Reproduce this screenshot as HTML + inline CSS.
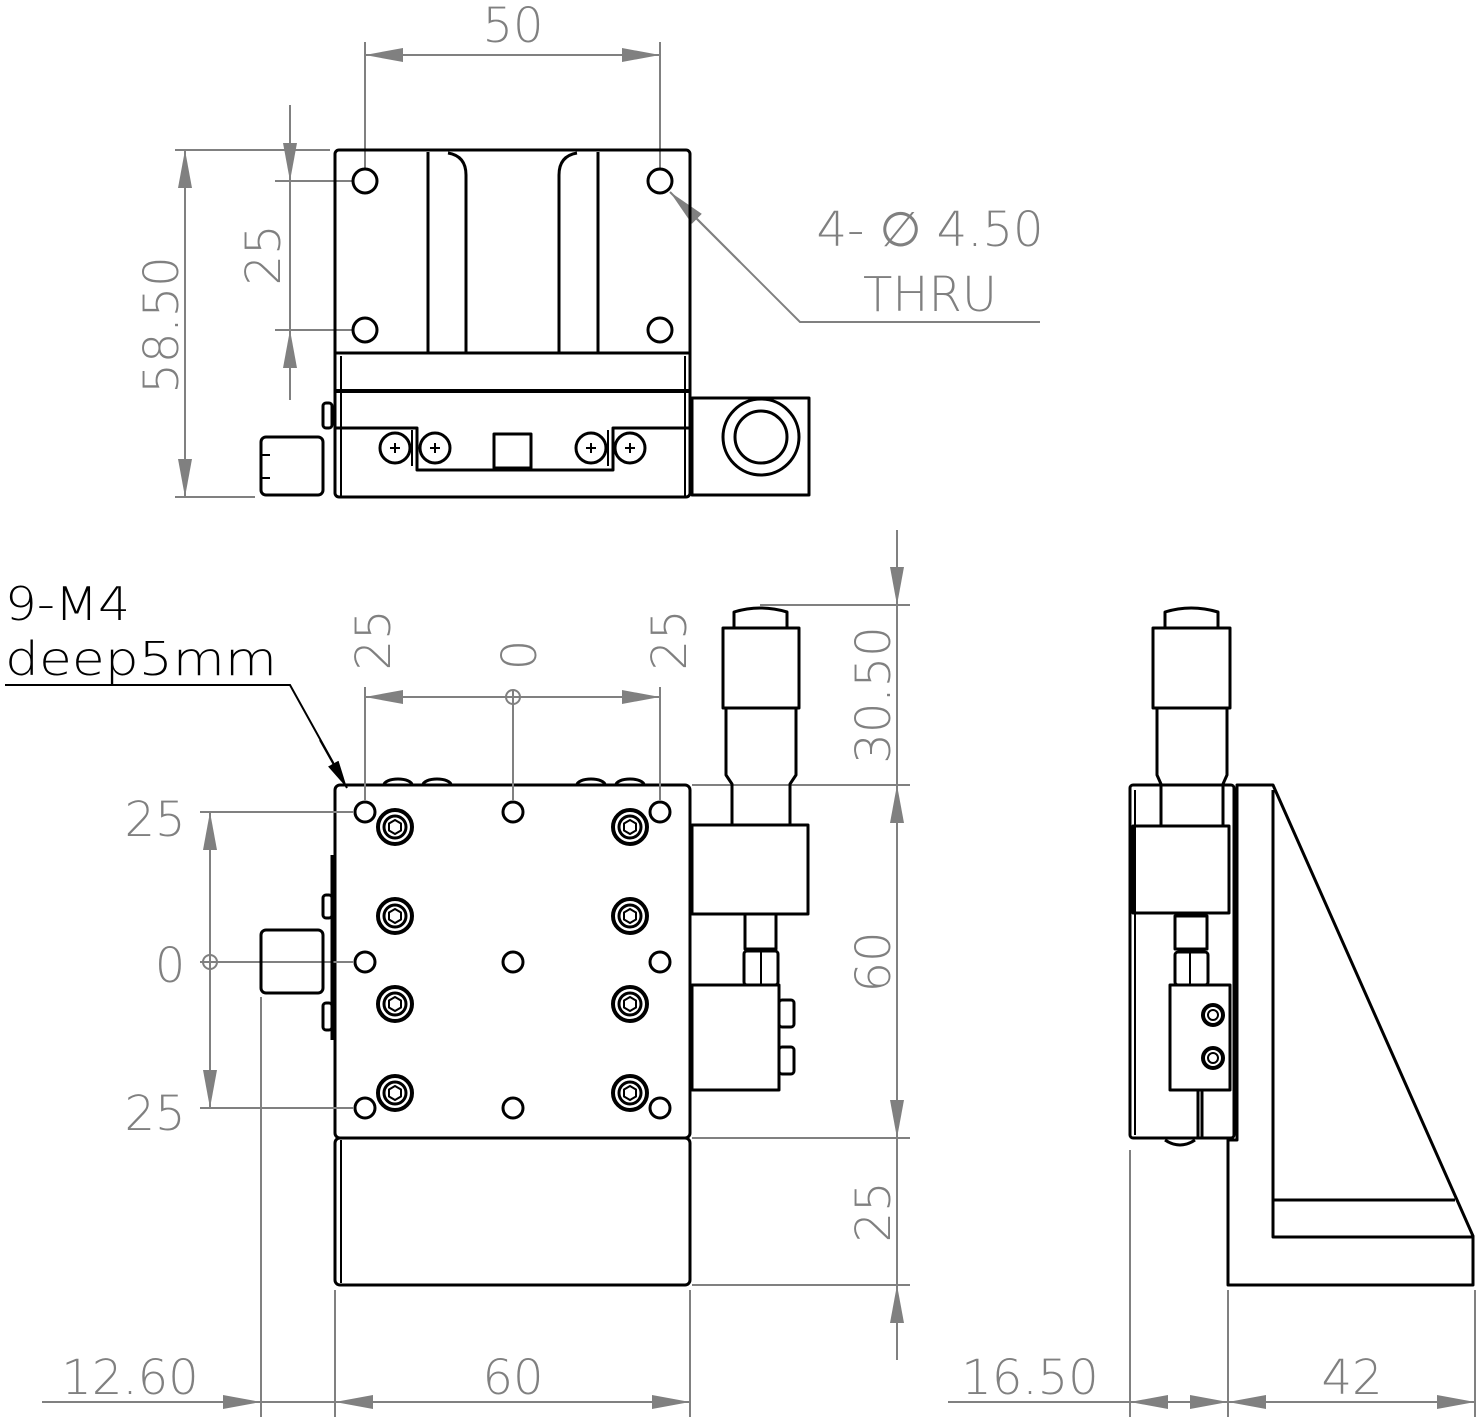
<!DOCTYPE html>
<html><head><meta charset="utf-8"><style>
html,body{margin:0;padding:0;background:#fff}
svg{display:block}
.k{fill:none;stroke:#000;stroke-width:3;stroke-linejoin:round}
.kw{fill:#fff;stroke:#000;stroke-width:3;stroke-linejoin:round}
.t{fill:none;stroke:#000;stroke-width:2}
.g{fill:none;stroke:#808080;stroke-width:2}
.gt{fill:#808080;font-family:"DejaVu Sans","Liberation Sans",sans-serif;font-weight:200;font-size:48px;text-anchor:middle}
.bt{fill:#000;font-family:"DejaVu Sans","Liberation Sans",sans-serif;font-weight:200;font-size:46px}
</style></head><body>
<svg width="1477" height="1417" viewBox="0 0 1477 1417" xmlns="http://www.w3.org/2000/svg">
<defs>
<marker id="a" markerUnits="userSpaceOnUse" markerWidth="40" markerHeight="16" refX="38" refY="8" orient="auto"><path d="M0,1 L38,8 L0,15 z" fill="#808080"/></marker>
<marker id="ab" markerUnits="userSpaceOnUse" markerWidth="30" markerHeight="16" refX="28" refY="8" orient="auto"><path d="M0,2 L28,8 L0,14 z" fill="#000"/></marker>
</defs>

<!-- ============ TOP VIEW ============ -->
<line class="g" x1="365" y1="42" x2="365" y2="168"/>
<line class="g" x1="660" y1="42" x2="660" y2="168"/>
<line class="g" x1="512" y1="55" x2="365" y2="55" marker-end="url(#a)"/>
<line class="g" x1="512" y1="55" x2="660" y2="55" marker-end="url(#a)"/>
<text class="gt" x="513" y="42">50</text>

<line class="g" x1="175" y1="150" x2="330" y2="150"/>
<line class="g" x1="175" y1="497" x2="255" y2="497"/>
<line class="g" x1="185" y1="320" x2="185" y2="150" marker-end="url(#a)"/>
<line class="g" x1="185" y1="320" x2="185" y2="497" marker-end="url(#a)"/>
<text class="gt" transform="translate(178,325) rotate(-90)">58.50</text>

<line class="g" x1="275" y1="181" x2="352" y2="181"/>
<line class="g" x1="275" y1="330" x2="352" y2="330"/>
<line class="g" x1="290" y1="105" x2="290" y2="181" marker-end="url(#a)"/>
<line class="g" x1="290" y1="400" x2="290" y2="330" marker-end="url(#a)"/>
<line class="g" x1="290" y1="181" x2="290" y2="330"/>
<text class="gt" transform="translate(280,255) rotate(-90)">25</text>

<polyline class="g" points="1040,322 800,322 675,197"/>
<line class="g" x1="740" y1="262" x2="670" y2="192" marker-end="url(#a)"/>
<text class="gt" x="930" y="246">4- ∅ 4.50</text>
<text class="gt" x="930" y="311">THRU</text>

<rect class="k" x="335" y="150" width="355" height="347" rx="4"/>
<line class="k" x1="428" y1="152" x2="428" y2="353"/>
<path class="k" d="M448,153 Q466,156 466,175 L466,353"/>
<path class="k" d="M577,153 Q559,156 559,175 L559,353"/>
<line class="k" x1="598" y1="152" x2="598" y2="353"/>
<line class="k" x1="335" y1="353" x2="690" y2="353"/>
<line class="t" x1="341" y1="356" x2="341" y2="497"/>
<line class="t" x1="685" y1="356" x2="685" y2="497"/>
<line class="k" x1="335" y1="391" x2="690" y2="391" style="stroke-width:4"/>
<circle class="k" cx="365" cy="181" r="12"/>
<circle class="k" cx="660" cy="181" r="12"/>
<circle class="k" cx="365" cy="330" r="12"/>
<circle class="k" cx="660" cy="330" r="12"/>
<polyline class="k" points="335,428 417,428 417,470 613,470 613,428 690,428"/>
<line class="t" x1="412" y1="430" x2="412" y2="466"/>
<line class="t" x1="608" y1="430" x2="608" y2="466"/>
<rect class="k" x="494" y="434" width="37" height="34"/>
<g class="k">
<circle cx="395" cy="448" r="15"/><circle cx="435" cy="448" r="15"/>
<circle cx="591" cy="448" r="15"/><circle cx="630" cy="448" r="15"/>
</g>
<g class="t">
<path d="M390,448h10M395,443v10M430,448h10M435,443v10M586,448h10M591,443v10M625,448h10M630,443v10"/>
</g>
<rect class="k" x="261" y="437" width="62" height="58" rx="5"/>
<line class="t" x1="261" y1="455" x2="270" y2="455"/>
<line class="t" x1="261" y1="478" x2="270" y2="478"/>
<rect class="k" x="323" y="403" width="9" height="25" rx="3"/>
<rect class="k" x="692" y="398" width="117" height="97"/>
<circle class="k" cx="761" cy="437" r="38"/>
<circle class="k" cx="761" cy="437" r="26"/>

<!-- ============ FRONT VIEW ============ -->
<text class="bt" x="5" y="620" textLength="125" lengthAdjust="spacingAndGlyphs">9-M4</text>
<text class="bt" x="5" y="675" textLength="272" lengthAdjust="spacingAndGlyphs">deep5mm</text>
<polyline points="5,685 290,685 340,775" fill="none" stroke="#000" stroke-width="2"/>

<g class="k">
<path d="M384,785 a14,6 0 0 1 28,0 M423,785 a14,6 0 0 1 28,0 M577,785 a14,6 0 0 1 28,0 M616,785 a14,6 0 0 1 28,0"/>
<path d="M384,1138 a14,6 0 0 0 28,0 M423,1138 a14,6 0 0 0 28,0 M577,1138 a14,6 0 0 0 28,0 M616,1138 a14,6 0 0 0 28,0"/>
</g>
<rect class="kw" x="335" y="785" width="355" height="353" rx="5"/>
<rect class="kw" x="335" y="1138" width="355" height="147" rx="5"/>
<line class="t" x1="341" y1="1140" x2="341" y2="1283"/>

<line x1="320" y1="740" x2="347" y2="788" stroke="#000" stroke-width="2" marker-end="url(#ab)"/>

<line class="g" x1="365" y1="687" x2="365" y2="800"/>
<line class="g" x1="660" y1="687" x2="660" y2="800"/>
<line class="g" x1="513" y1="690" x2="513" y2="800"/>
<line class="g" x1="513" y1="697" x2="365" y2="697" marker-end="url(#a)"/>
<line class="g" x1="513" y1="697" x2="660" y2="697" marker-end="url(#a)"/>
<circle class="g" cx="513" cy="697" r="7"/>
<text class="gt" transform="translate(390,640) rotate(-90)">25</text>
<text class="gt" transform="translate(536,655) rotate(-90)">0</text>
<text class="gt" transform="translate(686,640) rotate(-90)">25</text>

<line class="g" x1="200" y1="812" x2="353" y2="812"/>
<line class="g" x1="200" y1="962" x2="353" y2="962"/>
<line class="g" x1="200" y1="1108" x2="353" y2="1108"/>
<line class="g" x1="210" y1="962" x2="210" y2="812" marker-end="url(#a)"/>
<line class="g" x1="210" y1="962" x2="210" y2="1108" marker-end="url(#a)"/>
<circle class="g" cx="210" cy="962" r="7"/>
<text class="gt" x="155" y="836">25</text>
<text class="gt" x="170" y="982">0</text>
<text class="gt" x="155" y="1130">25</text>

<line class="g" x1="760" y1="605" x2="910" y2="605"/>
<line class="g" x1="692" y1="785" x2="910" y2="785"/>
<line class="g" x1="692" y1="1138" x2="910" y2="1138"/>
<line class="g" x1="692" y1="1285" x2="910" y2="1285"/>
<line class="g" x1="897" y1="530" x2="897" y2="605" marker-end="url(#a)"/>
<line class="g" x1="897" y1="605" x2="897" y2="785"/>
<line class="g" x1="897" y1="960" x2="897" y2="785" marker-end="url(#a)"/>
<line class="g" x1="897" y1="960" x2="897" y2="1138" marker-end="url(#a)"/>
<line class="g" x1="897" y1="1138" x2="897" y2="1285"/>
<line class="g" x1="897" y1="1360" x2="897" y2="1285" marker-end="url(#a)"/>
<text class="gt" transform="translate(890,695) rotate(-90)">30.50</text>
<text class="gt" transform="translate(890,962) rotate(-90)">60</text>
<text class="gt" transform="translate(890,1212) rotate(-90)">25</text>

<g class="k">
<circle cx="365" cy="812" r="10"/><circle cx="513" cy="812" r="10"/><circle cx="660" cy="812" r="10"/>
<circle cx="365" cy="962" r="10"/><circle cx="513" cy="962" r="10"/><circle cx="660" cy="962" r="10"/>
<circle cx="365" cy="1108" r="10"/><circle cx="513" cy="1108" r="10"/><circle cx="660" cy="1108" r="10"/>
</g>
<g id="hx" class="k">
<circle cx="395" cy="827" r="17" style="stroke-width:4"/><circle cx="395" cy="827" r="11"/><polygon class="t" points="395,820 401,823.5 401,830.5 395,834 389,830.5 389,823.5"/>
</g>
<use href="#hx" transform="translate(235,0)"/>
<use href="#hx" transform="translate(0,89)"/>
<use href="#hx" transform="translate(235,89)"/>
<use href="#hx" transform="translate(0,177)"/>
<use href="#hx" transform="translate(235,177)"/>
<use href="#hx" transform="translate(0,266)"/>
<use href="#hx" transform="translate(235,266)"/>

<line class="k" x1="332" y1="855" x2="332" y2="1040"/>
<rect class="k" x="261" y="930" width="62" height="63" rx="5"/>
<rect class="k" x="323" y="895" width="9" height="23" rx="3"/>
<rect class="k" x="323" y="1003" width="9" height="27" rx="3"/>
<line class="g" x1="261" y1="997" x2="261" y2="1417"/>

<path class="k" d="M734,628 L734,612 Q760,604 787,612 L787,628"/>
<rect class="k" x="723" y="628" width="76" height="80"/>
<path class="k" d="M726,708 L726,775 L732,784 L732,825 M796,708 L796,775 L790,784 L790,825"/>
<rect class="k" x="692" y="825" width="116" height="89"/>
<rect class="k" x="745" y="914" width="31" height="35"/>
<rect class="k" x="744" y="951" width="34" height="34" rx="3"/>
<line class="t" x1="761" y1="952" x2="761" y2="985"/>
<rect class="k" x="692" y="985" width="87" height="105"/>
<rect class="k" x="779" y="1000" width="15" height="27" rx="3"/>
<rect class="k" x="779" y="1047" width="15" height="27" rx="3"/>

<!-- ============ SIDE VIEW ============ -->
<path class="k" d="M1165,628 L1165,612 Q1191,604 1218,612 L1218,628"/>
<rect class="k" x="1153" y="628" width="77" height="80"/>
<path class="k" d="M1157,708 L1157,775 L1161,784 L1161,826 M1227,708 L1227,775 L1223,784 L1223,826"/>
<rect class="k" x="1130" y="785" width="104" height="353" rx="3"/>
<line class="t" x1="1135" y1="790" x2="1135" y2="1135"/>
<rect class="k" x="1133" y="826" width="96" height="87"/>
<rect class="k" x="1175" y="916" width="32" height="33"/>
<rect class="k" x="1175" y="952" width="33" height="33" rx="3"/>
<line class="t" x1="1190" y1="953" x2="1190" y2="985"/>
<rect class="kw" x="1170" y="985" width="60" height="105"/>
<circle class="k" cx="1213" cy="1015" r="10" style="stroke-width:4"/><circle class="t" cx="1213" cy="1015" r="5"/>
<circle class="k" cx="1213" cy="1058" r="10" style="stroke-width:4"/><circle class="t" cx="1213" cy="1058" r="5"/>
<line class="k" x1="1198" y1="1090" x2="1198" y2="1138"/>
<line class="k" x1="1202" y1="1090" x2="1202" y2="1138"/>
<path class="k" d="M1165,1140 Q1180,1150 1195,1140"/>
<path class="k" d="M1237,785 L1273,785 L1473,1236 L1473,1285 L1228,1285 L1228,1140 L1237,1140 Z"/>
<line class="k" x1="1237" y1="785" x2="1237" y2="1140"/>
<polyline class="k" points="1273,790 1273,1237 1473,1237"/>
<line class="k" x1="1273" y1="1200" x2="1455" y2="1200"/>

<!-- ============ BOTTOM DIMS ============ -->
<line class="g" x1="335" y1="1290" x2="335" y2="1417"/>
<line class="g" x1="690" y1="1290" x2="690" y2="1417"/>
<line class="g" x1="1130" y1="1150" x2="1130" y2="1417"/>
<line class="g" x1="1228" y1="1290" x2="1228" y2="1417"/>
<line class="g" x1="1475" y1="1290" x2="1475" y2="1417"/>
<line class="g" x1="42" y1="1402" x2="261" y2="1402" marker-end="url(#a)"/>
<line class="g" x1="261" y1="1402" x2="335" y2="1402"/>
<line class="g" x1="513" y1="1402" x2="335" y2="1402" marker-end="url(#a)"/>
<line class="g" x1="513" y1="1402" x2="690" y2="1402" marker-end="url(#a)"/>
<text class="gt" x="130" y="1394">12.60</text>
<text class="gt" x="513" y="1394">60</text>
<line class="g" x1="948" y1="1402" x2="1130" y2="1402"/>
<line class="g" x1="1179" y1="1402" x2="1130" y2="1402" marker-end="url(#a)"/>
<line class="g" x1="1179" y1="1402" x2="1228" y2="1402" marker-end="url(#a)"/>
<line class="g" x1="1350" y1="1402" x2="1228" y2="1402" marker-end="url(#a)"/>
<line class="g" x1="1350" y1="1402" x2="1475" y2="1402" marker-end="url(#a)"/>
<text class="gt" x="1030" y="1394">16.50</text>
<text class="gt" x="1352" y="1394">42</text>
</svg>
</body></html>
